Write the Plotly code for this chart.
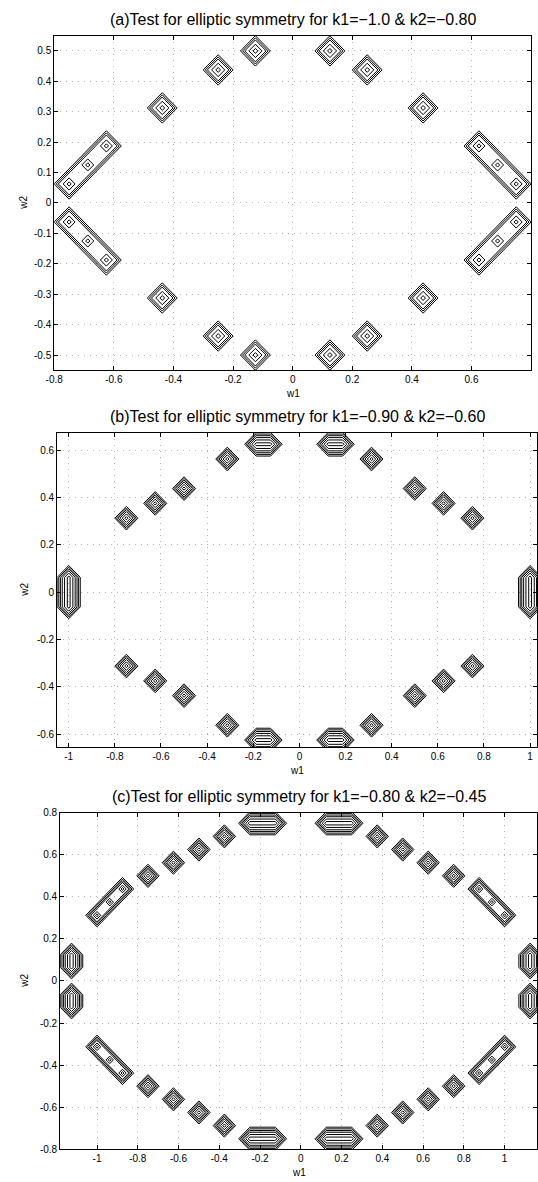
import plotly.graph_objects as go

# ---------------- data (peak locations) ----------------
# panel (a)  k1=-1.0, k2=-0.80
A_DIAMOND_W1 = [-0.4375, -0.25, -0.125, 0.125, 0.25, 0.4375,
                -0.4375, -0.25, -0.125, 0.125, 0.25, 0.4375]
A_DIAMOND_W2 = [0.3125, 0.4375, 0.5, 0.5, 0.4375, 0.3125,
                -0.3125, -0.4375, -0.5, -0.5, -0.4375, -0.3125]
A_CHAIN_W1_START = [-0.75, 0.625, -0.75, 0.625]
A_CHAIN_W2_START = [0.0625, 0.1875, -0.0625, -0.1875]
A_CHAIN_W1_END = [-0.625, 0.75, -0.625, 0.75]
A_CHAIN_W2_END = [0.1875, 0.0625, -0.1875, -0.0625]
A_CHAIN_PEAK_W1 = [-0.75, -0.6875, -0.625, 0.625, 0.6875, 0.75,
                   -0.75, -0.6875, -0.625, 0.625, 0.6875, 0.75]
A_CHAIN_PEAK_W2 = [0.0625, 0.125, 0.1875, 0.1875, 0.125, 0.0625,
                   -0.0625, -0.125, -0.1875, -0.1875, -0.125, -0.0625]

# panel (b)  k1=-0.90, k2=-0.60
B_DIAMOND_W1 = [-0.75, -0.625, -0.5, -0.3125, 0.3125, 0.5, 0.625, 0.75,
                -0.75, -0.625, -0.5, -0.3125, 0.3125, 0.5, 0.625, 0.75]
B_DIAMOND_W2 = [0.3125, 0.375, 0.4375, 0.5625, 0.5625, 0.4375, 0.375, 0.3125,
                -0.3125, -0.375, -0.4375, -0.5625, -0.5625, -0.4375, -0.375, -0.3125]
B_RIDGE_W1_START = [-0.1875, 0.125, -0.1875, 0.125, -1.0, 1.0]
B_RIDGE_W1_END = [-0.125, 0.1875, -0.125, 0.1875, -1.0, 1.0]
B_RIDGE_W2_START = [0.625, 0.625, -0.625, -0.625, -0.0625, -0.0625]
B_RIDGE_W2_END = [0.625, 0.625, -0.625, -0.625, 0.0625, 0.0625]

# panel (c)  k1=-0.80, k2=-0.45
C_DIAMOND_W1 = [-0.75, -0.625, -0.5, -0.375, 0.375, 0.5, 0.625, 0.75,
                -0.75, -0.625, -0.5, -0.375, 0.375, 0.5, 0.625, 0.75]
C_DIAMOND_W2 = [0.5, 0.5625, 0.625, 0.6875, 0.6875, 0.625, 0.5625, 0.5,
                -0.5, -0.5625, -0.625, -0.6875, -0.6875, -0.625, -0.5625, -0.5]
C_CHAIN_W1_START = [-1.0, 0.875, -1.0, 0.875]
C_CHAIN_W2_START = [0.3125, 0.4375, -0.3125, -0.4375]
C_CHAIN_W1_END = [-0.875, 1.0, -0.875, 1.0]
C_CHAIN_W2_END = [0.4375, 0.3125, -0.4375, -0.3125]
C_CHAIN_PEAK_W1 = [-1.0, -0.9375, -0.875, 0.875, 0.9375, 1.0,
                   -1.0, -0.9375, -0.875, 0.875, 0.9375, 1.0]
C_CHAIN_PEAK_W2 = [0.3125, 0.375, 0.4375, 0.4375, 0.375, 0.3125,
                   -0.3125, -0.375, -0.4375, -0.4375, -0.375, -0.3125]
C_RIDGE_W1_START = [-0.25, 0.125, -0.25, 0.125, -1.125, -1.125, 1.125, 1.125]
C_RIDGE_W1_END = [-0.125, 0.25, -0.125, 0.25, -1.125, -1.125, 1.125, 1.125]
C_RIDGE_W2_START = [0.75, 0.75, -0.75, -0.75, 0.065, -0.125, 0.065, -0.125]
C_RIDGE_W2_END = [0.75, 0.75, -0.75, -0.75, 0.125, -0.065, 0.125, -0.065]

TITLES = ["(a)Test for elliptic symmetry for k1=\u22121.0 & k2=\u22120.80",
          "(b)Test for elliptic symmetry for k1=\u22120.90 & k2=\u22120.60",
          "(c)Test for elliptic symmetry for k1=\u22120.80 & k2=\u22120.45"]

A_XTICKS = [-0.8, -0.6, -0.4, -0.2, 0, 0.2, 0.4, 0.6, 0.8]
A_XTICKTEXT = ["-0.8", "-0.6", "-0.4", "-0.2", "0", "0.2", "0.4", "0.6", "0.8"]
A_YTICKS = [-0.5, -0.4, -0.3, -0.2, -0.1, 0, 0.1, 0.2, 0.3, 0.4, 0.5]
A_YTICKTEXT = ["-0.5", "-0.4", "-0.3", "-0.2", "-0.1", "0", "0.1", "0.2", "0.3", "0.4", "0.5"]
B_XTICKS = [-1, -0.8, -0.6, -0.4, -0.2, 0, 0.2, 0.4, 0.6, 0.8, 1]
B_XTICKTEXT = ["-1", "-0.8", "-0.6", "-0.4", "-0.2", "0", "0.2", "0.4", "0.6", "0.8", "1"]
B_YTICKS = [-0.6, -0.4, -0.2, 0, 0.2, 0.4, 0.6]
B_YTICKTEXT = ["-0.6", "-0.4", "-0.2", "0", "0.2", "0.4", "0.6"]
C_XTICKS = B_XTICKS
C_XTICKTEXT = B_XTICKTEXT
C_YTICKS = [-0.8, -0.6, -0.4, -0.2, 0, 0.2, 0.4, 0.6, 0.8]
C_YTICKTEXT = ["-0.8", "-0.6", "-0.4", "-0.2", "0", "0.2", "0.4", "0.6", "0.8"]

# ---------------- geometry helpers ----------------
W, H = 538, 1182


def hull(points):
    pts = sorted(set(points))
    if len(pts) <= 2:
        return pts

    def cross(o, a, b):
        return (a[0] - o[0]) * (b[1] - o[1]) - (a[1] - o[1]) * (b[0] - o[0])
    lower, upper = [], []
    for p in pts:
        while len(lower) >= 2 and cross(lower[-2], lower[-1], p) <= 0:
            lower.pop()
        lower.append(p)
    for p in reversed(pts):
        while len(upper) >= 2 and cross(upper[-2], upper[-1], p) <= 0:
            upper.pop()
        upper.append(p)
    return lower[:-1] + upper[:-1]


def level_curve(x0, y0, x1, y1, r):
    pts = []
    for cx, cy in ((x0, y0), (x1, y1)):
        pts += [(cx + r, cy), (cx, cy + r), (cx - r, cy), (cx, cy - r)]
    h = hull(pts)
    h.append(h[0])
    return h


def add_curves(xs, ys, poly):
    for px, py in poly:
        xs.append(px)
        ys.append(py)
    xs.append(None)
    ys.append(None)


def panel_lines(diam_w1, diam_w2, diam_levels,
                seg=None, seg_levels=(), peaks=None, peak_levels=()):
    xs, ys = [], []
    for cx, cy in zip(diam_w1, diam_w2):
        for r in diam_levels:
            add_curves(xs, ys, level_curve(cx, cy, cx, cy, r))
    if seg is not None:
        for x0, x1, y0, y1 in zip(*seg):
            for r in seg_levels:
                add_curves(xs, ys, level_curve(x0, y0, x1, y1, r))
    if peaks is not None:
        for cx, cy in zip(*peaks):
            for r in peak_levels:
                add_curves(xs, ys, level_curve(cx, cy, cx, cy, r))
    return xs, ys


fig = go.Figure()
line_style = dict(color="black", width=1)

# panel (a)
xa, ya = panel_lines(A_DIAMOND_W1, A_DIAMOND_W2, [0.05, 0.043, 0.036, 0.022, 0.008],
                     seg=(A_CHAIN_W1_START, A_CHAIN_W1_END, A_CHAIN_W2_START, A_CHAIN_W2_END),
                     seg_levels=[0.05, 0.043, 0.036],
                     peaks=(A_CHAIN_PEAK_W1, A_CHAIN_PEAK_W2), peak_levels=[0.02, 0.007])
fig.add_trace(go.Scatter(x=xa, y=ya, mode="lines", line=line_style,
                         xaxis="x", yaxis="y", hoverinfo="skip", showlegend=False))

# panel (b)
xb, yb = panel_lines(B_DIAMOND_W1, B_DIAMOND_W2, [0.05, 0.043, 0.036, 0.028, 0.018, 0.007],
                     seg=(B_RIDGE_W1_START, B_RIDGE_W1_END, B_RIDGE_W2_START, B_RIDGE_W2_END),
                     seg_levels=[0.05, 0.043, 0.036, 0.028, 0.018, 0.006])
fig.add_trace(go.Scatter(x=xb, y=yb, mode="lines", line=line_style,
                         xaxis="x2", yaxis="y2", hoverinfo="skip", showlegend=False))

# panel (c)
xc, yc = panel_lines(C_DIAMOND_W1, C_DIAMOND_W2, [0.055, 0.047, 0.039, 0.031, 0.02, 0.008],
                     seg=(C_RIDGE_W1_START + C_CHAIN_W1_START, C_RIDGE_W1_END + C_CHAIN_W1_END,
                          C_RIDGE_W2_START + C_CHAIN_W2_START, C_RIDGE_W2_END + C_CHAIN_W2_END),
                     seg_levels=[0.055, 0.047, 0.039, 0.031],
                     peaks=(C_CHAIN_PEAK_W1, C_CHAIN_PEAK_W2), peak_levels=[0.018, 0.007])
# inner ridge levels for hexagons
xr, yr = panel_lines([], [], [],
                     seg=(C_RIDGE_W1_START, C_RIDGE_W1_END, C_RIDGE_W2_START, C_RIDGE_W2_END),
                     seg_levels=[0.02, 0.008])
fig.add_trace(go.Scatter(x=xc + xr, y=yc + yr, mode="lines", line=line_style,
                         xaxis="x3", yaxis="y3", hoverinfo="skip", showlegend=False))

FONT = "Liberation Sans, Arial, sans-serif"


def axis_style(rng, domain, tickvals, ticktext, anchor):
    return dict(range=rng, domain=domain, anchor=anchor, tickvals=tickvals, ticktext=ticktext,
                showline=True, linecolor="black", linewidth=1, mirror="ticks",
                ticks="inside", ticklen=4, tickcolor="black", tickwidth=1,
                showgrid=True, gridcolor="#b4b4b4", griddash="1px,5px", gridwidth=1,
                zeroline=False, tickfont=dict(family=FONT, size=10, color="black"))


panels = [
    # x range, y range, left px, right px, top px, bottom px
    ([-0.8, 0.8], [-0.55, 0.55], 46, 531, 30, 368, A_XTICKS, A_XTICKTEXT, A_YTICKS, A_YTICKTEXT),
    ([-1.05, 1.03], [-0.656, 0.674], 49, 537, 431, 749, B_XTICKS, B_XTICKTEXT, B_YTICKS, B_YTICKTEXT),
    ([-1.181, 1.159], [-0.8, 0.8], 52, 537, 815, 1155, C_XTICKS, C_XTICKTEXT, C_YTICKS, C_YTICKTEXT),
]

layout = dict(width=W, height=H, margin=dict(l=0, r=0, t=0, b=0),
              paper_bgcolor="white", plot_bgcolor="white", showlegend=False,
              font=dict(family=FONT, color="black"))
annotations = []
for i, (xr_, yr_, l, r, t, b, xt, xtt, yt, ytt) in enumerate(panels):
    sx = "" if i == 0 else str(i + 1)
    layout["xaxis" + sx] = axis_style(xr_, [l / W, r / W], xt, xtt, "y" + sx)
    layout["yaxis" + sx] = axis_style(yr_, [1 - b / H, 1 - t / H], yt, ytt, "x" + sx)
    cx = (l + r) / 2 / W
    annotations.append(dict(text=TITLES[i], x=cx, y=1 - (t - 16) / H, xref="paper", yref="paper",
                            showarrow=False, font=dict(family=FONT, size=16, color="black"),
                            xanchor="center", yanchor="middle"))
    annotations.append(dict(text="w1", x=cx, y=1 - (b + 23) / H, xref="paper", yref="paper",
                            showarrow=False, font=dict(family=FONT, size=10, color="black"),
                            xanchor="center", yanchor="middle"))
    annotations.append(dict(text="w2", x=15 / W, y=1 - ((t + b) / 2) / H, xref="paper", yref="paper",
                            showarrow=False, textangle=-90, font=dict(family=FONT, size=10, color="black"),
                            xanchor="center", yanchor="middle"))
layout["annotations"] = annotations
fig.update_layout(**layout)
fig.write_html("out.html")
